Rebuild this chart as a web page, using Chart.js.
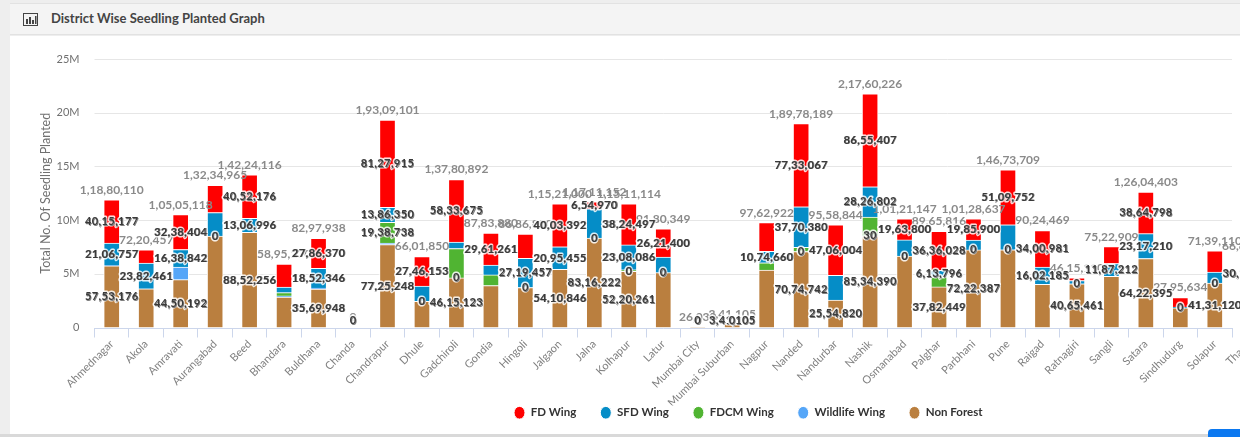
<!DOCTYPE html>
<html>
<head>
<meta charset="utf-8">
<title>District Wise Seedling Planted Graph</title>
<script src="https://cdn.jsdelivr.net/npm/chart.js@4"></script>
<style>
    html, body { margin: 0; width: 1240px; height: 437px; overflow: hidden; background: #eeeeee; }
    body { position: relative; font-family: Lato, sans-serif; }
    .header { position: absolute; left: 10px; top: 3px; width: 1230px; height: 30px; background: #f4f4f4; border-top: 1px solid #e2e2e2; border-bottom: 1px solid #e2e2e2; }
    .header svg { position: absolute; left: 13px; top: 9px; }
    .header span { position: absolute; left: 41px; top: 6px; font-size: 13px; font-weight: 700; color: #444; }
    .card { position: absolute; left: 10px; top: 36px; width: 1230px; height: 398px; background: #fff; overflow: hidden; }
    .foot { position: absolute; left: 0; top: 434px; width: 1240px; height: 3px; background: #d9d9d9; }
    .btn { position: absolute; left: 1208px; top: 429px; width: 32px; height: 8px; background: #0b78f0; border-top-left-radius: 4px; }
    canvas { display: block; filter: blur(0.3px); }
</style>
</head>
<body>
<div class="header">
    <svg width="15" height="13" viewBox="0 0 15 13">
        <rect x="0.5" y="0.5" width="14" height="12" fill="none" stroke="#444" stroke-width="1"/>
        <rect x="3" y="6" width="2" height="5" fill="#444"/>
        <rect x="6" y="4" width="2" height="7" fill="#444"/>
        <rect x="9" y="7" width="2" height="4" fill="#444"/>
        <rect x="12" y="3" width="1.5" height="8" fill="#444"/>
    </svg>
    <span>District Wise Seedling Planted Graph</span>
</div>
<div class="card"><canvas id="seedlingChart" width="1474" height="420"></canvas></div>
<div class="foot"></div>
<div class="btn"></div>

<script>
const categories = ['Ahmednagar', 'Akola', 'Amravati', 'Aurangabad', 'Beed', 'Bhandara', 'Buldhana', 'Chanda', 'Chandrapur', 'Dhule',
    'Gadchiroli', 'Gondia', 'Hingoli', 'Jalgaon', 'Jalna', 'Kolhapur', 'Latur', 'Mumbai City', 'Mumbai Suburban', 'Nagpur',
    'Nanded', 'Nandurbar', 'Nashik', 'Osmanabad', 'Palghar', 'Parbhani', 'Pune', 'Raigad', 'Ratnagiri', 'Sangli',
    'Satara', 'Sindhudurg', 'Solapur', 'Thane'];

const fdWing = [4015177, 1230000, 3238404, 2534965, 4052176, 2125270, 2786370, 0, 8127915, 2746153,
    5833675, 2961261, 2240000, 4003392, 654970, 3824497, 2621400, 0, 0, 2660000,
    7733067, 4706004, 8655407, 1963800, 3636028, 1985900, 5109752, 3400981, 250000, 1560000,
    3864798, 900000, 1979110, 168000];
const sfdWing = [2106757, 2382461, 1638842, 2180000, 1306996, 530000, 1852346, 0, 1386350, 1430000,
    600000, 930000, 2719457, 2095455, 2739960, 2308086, 1450000, 0, 0, 1074660,
    3770380, 2298020, 2826802, 1500000, 613796, 920350, 2330000, 1602185, 299649, 1187212,
    2317210, 55634, 1028880, 3012000];
const fdcmWing = [0, 0, 0, 0, 0, 300000, 0, 0, 1938738, 0,
    2732094, 990000, 0, 0, 0, 158270, 0, 0, 0, 690000,
    400000, 0, 1743597, 0, 933543, 0, 0, 0, 0, 0,
    0, 0, 0, 0];
const wildlifeWing = [5000, 0, 1177680, 0, 12688, 100000, 89274, 0, 130850, 0,
    0, 0, 0, 11307, 0, 0, 0, 0, 0, 0,
    0, 0, 30, 0, 0, 0, 0, 0, 0, 0,
    0, 0, 0, 0];
const nonForest = [5753176, 3607996, 4450192, 8520000, 8852256, 2840000, 3569948, 0, 7725248, 2425697,
    4615123, 3902619, 3727393, 5410846, 8316222, 5220261, 5108949, 26030, 341105, 5338262,
    7074742, 2554820, 8534390, 6657347, 3782449, 7222387, 7233957, 4021303, 4065461, 4775697,
    6422395, 1840000, 4131120, 3500000];

// totals as printed above the stacks
const totals = [11880110, 7220457, 10505118, 13234965, 14224116, 5895270, 8297938, 0, 19309101, 6601850,
    13780892, 8783880, 8686850, 11521000, 11711152, 11511114, 9180349, 26030, 341105, 9762922,
    18978189, 9558844, 21760226, 10121147, 8965816, 10128637, 14673709, 9024469, 4615110, 7522909,
    12604403, 2795634, 7139110, 6680000];

const yTicks = [0, 5000000, 10000000, 15000000, 20000000, 25000000];

// which segments carry a value label in the picture
const fdHidden = ['Akola', 'Aurangabad', 'Bhandara', 'Chanda', 'Hingoli', 'Mumbai City', 'Mumbai Suburban', 'Nagpur', 'Ratnagiri', 'Sangli', 'Sindhudurg', 'Solapur', 'Thane'];
const sfdHidden = ['Aurangabad', 'Bhandara', 'Chanda', 'Dhule', 'Gadchiroli', 'Gondia', 'Jalna', 'Latur', 'Mumbai City', 'Mumbai Suburban', 'Nandurbar', 'Osmanabad', 'Parbhani', 'Pune', 'Ratnagiri', 'Sindhudurg', 'Solapur'];
const fdcmShown = ['Chandrapur'];
const wildlifeShown = ['Aurangabad', 'Chanda', 'Dhule', 'Gadchiroli', 'Hingoli', 'Jalna', 'Kolhapur', 'Latur', 'Mumbai City', 'Mumbai Suburban', 'Nanded', 'Nashik', 'Osmanabad', 'Parbhani', 'Pune', 'Ratnagiri', 'Sindhudurg', 'Solapur'];
const nonHidden = ['Akola', 'Aurangabad', 'Bhandara', 'Chanda', 'Dhule', 'Gondia', 'Hingoli', 'Latur', 'Mumbai City', 'Nagpur', 'Osmanabad', 'Pune', 'Raigad', 'Sangli', 'Sindhudurg', 'Thane'];

const labelRules = [
    name => !nonHidden.includes(name),
    name => wildlifeShown.includes(name),
    name => fdcmShown.includes(name),
    name => !sfdHidden.includes(name),
    name => !fdHidden.includes(name)
];

function formatIndian(value) {
    return value.toLocaleString('en-IN');
}

// grid and axis line stop at the edge of the last whole category
const gridPlugin = {
    id: 'cutGrid',
    afterLayout(chart) {
        // legend sits closer to the axis than the layout allows, and centred on the full canvas
        const legend = chart.legend;
        const h = legend.bottom - legend.top;
        legend.top = 347;
        legend.bottom = 347 + h;
        legend.left += 110;
        legend.right += 110;
    },
    beforeDatasetsDraw(chart) {
        const { ctx, chartArea, scales: { x, y } } = chart;
        const right = (x.getPixelForValue(32) + x.getPixelForValue(33)) / 2;
        ctx.save();
        ctx.lineWidth = 1;
        ctx.strokeStyle = '#e6e6e6';
        yTicks.slice(1).forEach(tick => {
            const py = Math.round(y.getPixelForValue(tick)) + 0.5;
            ctx.beginPath();
            ctx.moveTo(chartArea.left, py);
            ctx.lineTo(right, py);
            ctx.stroke();
        });
        ctx.strokeStyle = '#ccd6eb';
        const py = Math.round(y.getPixelForValue(0)) + 0.5;
        ctx.beginPath();
        ctx.moveTo(chartArea.left, py);
        ctx.lineTo(right, py);
        ctx.stroke();
        ctx.restore();
    }
};

// no datalabels plugin available, so the labels are drawn here
const labelPlugin = {
    id: 'stackLabels',
    afterDatasetsDraw(chart) {
        const { ctx, chartArea, scales: { y } } = chart;
        ctx.save();
        ctx.textAlign = 'center';
        ctx.textBaseline = 'middle';
        ctx.lineJoin = 'round';

        ctx.font = 'bold 12px Lato, sans-serif';
        ctx.fillStyle = '#8a8a8a';
        const firstMeta = chart.getDatasetMeta(0);
        categories.forEach((name, i) => {
            const top = y.getPixelForValue(fdWing[i] + sfdWing[i] + fdcmWing[i] + wildlifeWing[i] + nonForest[i]);
            ctx.fillText(formatIndian(totals[i]), firstMeta.data[i].x, top - 10);
        });

        ctx.font = 'bold 11px Lato, sans-serif';
        ctx.letterSpacing = '0.4px';
        chart.data.datasets.forEach((dataset, d) => {
            const meta = chart.getDatasetMeta(d);
            categories.forEach((name, i) => {
                if (!labelRules[d](name)) return;
                const bar = meta.data[i];
                const text = formatIndian(dataset.data[i]);
                const cy = Math.min((bar.y + bar.base) / 2, chartArea.bottom - 7);
                ctx.strokeStyle = 'rgba(255,255,255,0.85)';
                ctx.lineWidth = 3;
                ctx.strokeText(text, bar.x, cy);
                ctx.fillStyle = '#808080';
                ctx.fillText(text, bar.x + 0.8, cy + 0.5);
                ctx.fillStyle = '#3a3a3a';
                ctx.fillText(text, bar.x, cy);
            });
        });
        ctx.restore();
    }
};

function makeDataset(label, data, color) {
    return { label, data, backgroundColor: color, borderColor: '#ffffff', borderWidth: 1, barThickness: 16, stack: 'wings' };
}

document.addEventListener('DOMContentLoaded', () => {
    const ctx = document.getElementById('seedlingChart').getContext('2d');

    new Chart(ctx, {
        type: 'bar',
        data: {
            labels: categories,
            datasets: [
                makeDataset('Non Forest', nonForest, '#ba7f3f'),
                makeDataset('Wildlife Wing', wildlifeWing, '#55a6f8'),
                makeDataset('FDCM Wing', fdcmWing, '#50b432'),
                makeDataset('SFD Wing', sfdWing, '#058dc7'),
                makeDataset('FD Wing', fdWing, '#ff0000')
            ]
        },
        options: {
            responsive: false,
            animation: false,
            layout: { padding: { top: 23, right: 217.5, bottom: 5 } },
            plugins: {
                tooltip: { enabled: false },
                legend: {
                    position: 'bottom',
                    reverse: true,
                    labels: {
                        usePointStyle: true,
                        pointStyle: 'circle',
                        pointStyleWidth: 11,
                        boxHeight: 9,
                        padding: 24,
                        color: '#333333',
                        font: { family: 'Lato, sans-serif', size: 11.5, weight: 'bold' }
                    }
                }
            },
            scales: {
                x: {
                    stacked: true,
                    afterFit: scale => { scale.height = 78; },
                    border: { display: false },
                    grid: { display: true, drawOnChartArea: false, drawTicks: true, tickLength: 10, color: '#ccd6eb', offset: true },
                    ticks: {
                        autoSkip: false,
                        minRotation: 45,
                        maxRotation: 45,
                        padding: 0,
                        color: '#808080',
                        font: { family: 'Lato, sans-serif', size: 11 }
                    }
                },
                y: {
                    stacked: true,
                    min: 0,
                    max: 25000000,
                    afterFit: scale => { scale.width = 84.5; },
                    afterBuildTicks: scale => { scale.ticks = yTicks.map(value => ({ value })); },
                    border: { display: false },
                    grid: { display: false },
                    ticks: {
                        padding: 7,
                        color: '#707070',
                        font: { family: 'Lato, sans-serif', size: 11 },
                        callback: value => (value === 0 ? '0' : value / 1000000 + 'M')
                    },
                    title: {
                        display: true,
                        text: 'Total No. Of Seedling Planted',
                        color: '#707070',
                        padding: { top: 28, bottom: 0 },
                        font: { family: 'Lato, sans-serif', size: 12.5 }
                    }
                }
            }
        },
        plugins: [gridPlugin, labelPlugin]
    });
});
</script>
</body>
</html>
